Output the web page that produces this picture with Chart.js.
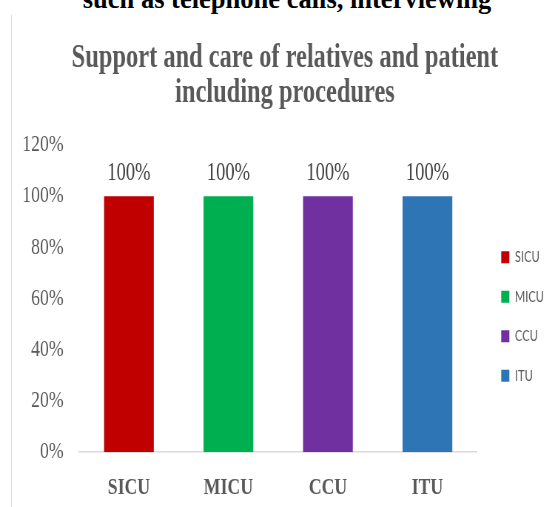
<!DOCTYPE html>
<html>
<head>
<meta charset="utf-8">
<script src="https://cdn.jsdelivr.net/npm/chart.js@4.4.1/dist/chart.umd.min.js"></script>
<style>
    body {
        margin: 0;
        background: #ffffff;
        overflow: hidden;
    }
    #page {
        position: relative;
        width: 549px;
        height: 507px;
        overflow: hidden;
    }
    /* caption of the figure above, cut off at the top */
    #caption {
        position: absolute;
        left: 0;
        top: -14px;
        width: 574px;
        text-align: center;
        font: bold 26.5px "Liberation Serif", "Times New Roman", serif;
        line-height: 1;
        color: #000000;
        white-space: nowrap;
    }
    #edge {
        position: absolute;
        left: 11px;
        top: 15px;
        width: 1px;
        height: 492px;
        background: #d9d9d9;
    }
    /* the original chart is horizontally squeezed */
    #wrap {
        position: absolute;
        left: 0;
        top: 0;
        width: 742px;
        height: 507px;
        transform: scaleX(0.74);
        transform-origin: 0 0;
    }
</style>
</head>
<body>
<div id="page">
    <div id="caption">such as telephone calls, interviewing</div>
    <div id="edge"></div>
    <div id="wrap"><canvas id="chart"></canvas></div>
</div>
<script>
// Data
const titleLines = ['Support and care of relatives and patient', 'including procedures'];
const categories = ['SICU', 'MICU', 'CCU', 'ITU'];
const values = [100, 100, 100, 100];
const barColors = ['#c00000', '#00b050', '#7030a0', '#2e75b6'];
const yTicks = [0, 20, 40, 60, 80, 100, 120];

const serif = '"Liberation Serif", "Times New Roman", serif';

// "100%" above every bar
const valueLabels = {
    id: 'valueLabels',
    afterDatasetsDraw(chart) {
        const ctx = chart.ctx;
        const meta = chart.getDatasetMeta(0);
        ctx.save();
        ctx.font = '25px ' + serif;
        ctx.fillStyle = '#404040';
        ctx.textAlign = 'center';
        ctx.textBaseline = 'alphabetic';
        meta.data.forEach((bar, i) => {
            ctx.fillText(values[i] + '%', bar.x, bar.y - 16);
        });
        ctx.restore();
    }
};

// title and legend sit a bit off from where Chart.js puts them
const boxNudge = {
    id: 'boxNudge',
    afterLayout(chart) {
        const lg = chart.legend;
        lg.left += 8;
        lg.right += 8;
        lg.top += 55;
        lg.bottom += 55;
        const tb = chart.titleBlock;
        tb.left += 12;
        tb.right += 12;
    }
};

const ctx = document.getElementById('chart').getContext('2d');
const chart = new Chart(ctx, {
    type: 'bar',
    data: {
        labels: categories,
        datasets: [{
            label: 'Support and care',
            data: values,
            backgroundColor: barColors,
            borderWidth: 0,
            categoryPercentage: 1.0,
            barPercentage: 0.5
        }]
    },
    options: {
        responsive: true,
        maintainAspectRatio: false,
        animation: false,
        layout: {
            padding: { left: 9, right: 5, top: 0, bottom: -16 }
        },
        scales: {
            x: {
                grid: { display: false, drawTicks: false },
                border: { display: true, color: '#d9d9d9', width: 1.5 },
                ticks: {
                    color: '#595959',
                    padding: 21,
                    font: { family: serif, size: 24, weight: 'bold' }
                }
            },
            y: {
                min: 0,
                max: 120,
                afterBuildTicks: axis => {
                    axis.ticks = yTicks.map(v => ({ value: v }));
                },
                grid: { display: false, drawTicks: false },
                border: { display: false },
                ticks: {
                    color: '#595959',
                    padding: 21,
                    font: { family: serif, size: 24 },
                    callback: v => v + '%'
                }
            }
        },
        plugins: {
            title: {
                display: true,
                text: titleLines,
                color: '#595959',
                font: { family: serif, size: 33, weight: 'bold', lineHeight: 1.09 },
                padding: { top: 40, bottom: 33 }
            },
            legend: {
                display: true,
                position: 'right',
                onClick: null,
                labels: {
                    boxWidth: 11,
                    boxHeight: 12,
                    padding: 24.5,
                    color: '#595959',
                    font: { family: 'Lato, "Liberation Sans", sans-serif', size: 15 },
                    generateLabels: () => categories.map((c, i) => ({
                        text: c,
                        fillStyle: barColors[i],
                        strokeStyle: barColors[i],
                        lineWidth: 0,
                        fontColor: '#595959',
                        hidden: false,
                        index: i
                    }))
                }
            },
            tooltip: { enabled: false }
        }
    },
    plugins: [valueLabels, boxNudge]
});
</script>
</body>
</html>
